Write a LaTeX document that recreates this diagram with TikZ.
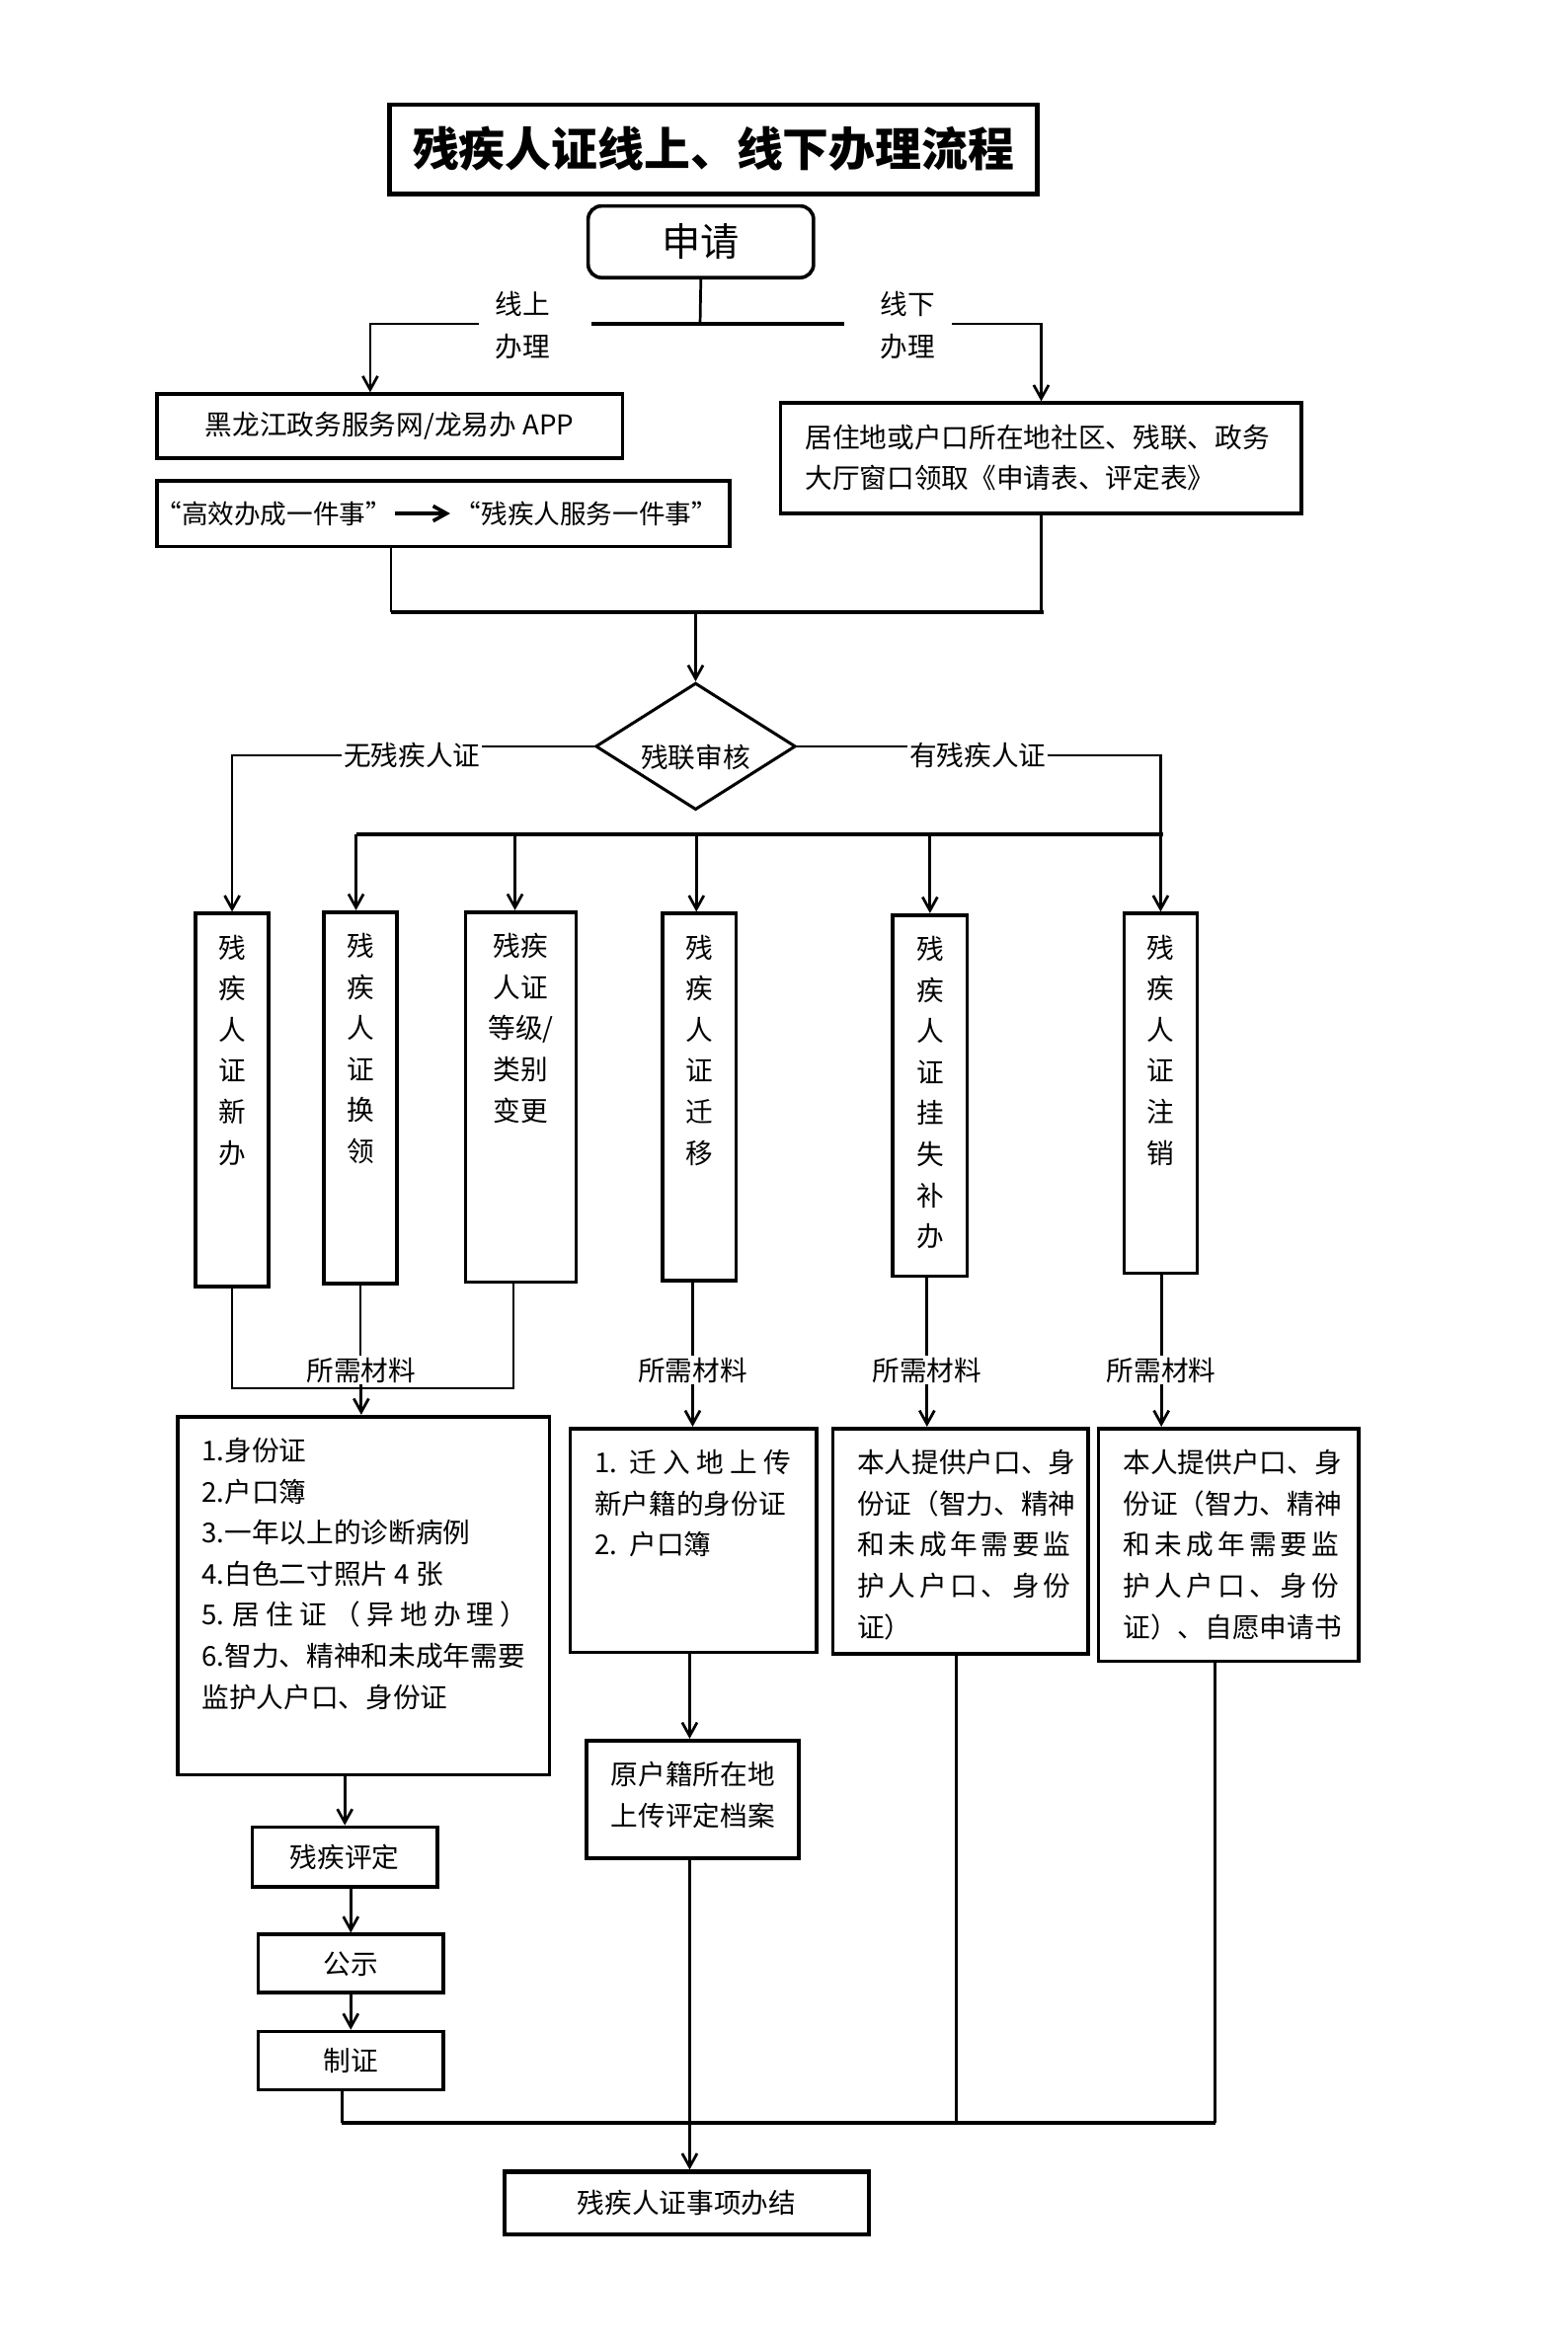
\documentclass[tikz,border=0pt]{standalone}
\usepackage{fontspec}
\setmainfont{Noto Sans CJK SC}
\usepackage{tikz}
\usetikzlibrary{arrows,arrows.meta,positioning,calc,shapes.geometric}
\tikzstyle{box}=[draw,rectangle,line width=2.4pt,inner sep=0pt]
\tikzstyle{col}=[box,minimum width=49pt]
\tikzstyle{tag}=[inner sep=1pt]
\tikzstyle{link}=[line width=1.8pt]
\tikzstyle{arr}=[link,-{Straight Barb[length=9pt,width=10pt]}]
\tikzstyle{bar}=[line width=3pt]
\tikzstyle{vtext}=[anchor=north,align=center,yshift=-12pt]
\tikzstyle{ltext}=[anchor=north west,align=left,xshift=14pt,yshift=-12pt]
\newcommand{\spreadline}[2]{\makebox[#1][s]{#2}}

\begin{document}
\begin{tikzpicture}[x=1pt,y=-1pt,font=\fontsize{18.3}{27.5}\selectfont]
\useasboundingbox (0,0) rectangle (1050,1571);

% top part
\node [box,line width=3pt,minimum width=434pt,minimum height=60pt,font=\fontsize{31}{31}\selectfont\bfseries] (title) at (478,100) {残疾人证线上、线下办理流程};
\node [box,rounded corners=9pt,minimum width=151pt,minimum height=48pt,font=\fontsize{26}{26}\selectfont] (apply) at (469.5,162) {申请};
\node [tag,align=center,font=\fontsize{18.3}{28}\selectfont] (on) at (350,218) {线上\\办理};
\node [tag,align=center,font=\fontsize{18.3}{28}\selectfont] (off) at (608,218) {线下\\办理};
\coordinate (split) at (469,217);

\node [box,minimum width=312pt,minimum height=43pt] (web) at (261,285.5) {黑龙江政务服务网/龙易办 APP};
\node [box,minimum width=384pt,minimum height=44pt] (eff) at (297,344) {};
\node [tag,anchor=west,font=\fontsize{17.6}{20}\selectfont] (effa) at (103,344) {“高效办成一件事”};
\node [tag,anchor=east,font=\fontsize{17.6}{20}\selectfont] (effb) at (482,344) {“残疾人服务一件事”};
\node [box,minimum width=349pt,minimum height=74pt,
  label={[ltext]north west:{居住地或户口所在地社区、残联、政务\\大厅窗口领取《申请表、评定表》}}] (hall) at (697.5,307) {};

\draw[arr,line width=2.4pt,shorten <=1pt,shorten >=2pt] (effa.east) -- (effb.west);
\draw[link] (apply.south) -- (split);
\draw[bar] ([xshift=27pt]on.east |- split) -- ([xshift=-23pt]off.west |- split);
\draw[arr] ([xshift=-10pt]on.west |- split) -| ([xshift=-13pt]web.north);
\draw[arr] ([xshift=10pt]off.east |- split) -| (hall.north);

% review
\coordinate (join) at (466,410);
\node [draw,diamond,line width=2pt,minimum width=134pt,minimum height=85pt,aspect=1.58,inner sep=0pt] (audit) at (466,500) {\raisebox{-14pt}[0pt][0pt]{残联审核}};
\draw[link] ([xshift=-35pt]eff.south) -- ([xshift=-35pt]eff.south |- join);
\draw[link] (hall.south) -- (hall.south |- join);
\draw[bar] ([xshift=-35pt]eff.south |- join) -- ([xshift=1.5pt]hall.south |- join);
\draw[arr] (join) -- (audit.north);

\node [tag] (nocard) at (276,506) {无残疾人证};
\node [tag] (hascard) at (655,506) {有残疾人证};

% six services
\node [col,minimum height=250pt,label={[vtext]north:{残\\疾\\人\\证\\新\\办}}] (new) at (155.5,737) {};
\node [col,minimum height=249pt,label={[vtext]north:{残\\疾\\人\\证\\换\\领}}] (renew) at (241.5,735.5) {};
\node [col,minimum width=74pt,minimum height=248pt,label={[vtext]north:{残疾\\人证\\等级/\\类别\\变更}}] (grade) at (349,735) {};
\node [col,minimum height=246pt,label={[vtext]north:{残\\疾\\人\\证\\迁\\移}}] (transfer) at (468.5,735) {};
\node [col,minimum width=50pt,minimum height=242pt,label={[vtext]north:{残\\疾\\人\\证\\挂\\失\\补\\办}}] (lost) at (623,734) {};
\node [col,minimum height=241pt,label={[vtext]north:{残\\疾\\人\\证\\注\\销}}] (cancel) at (777.5,732.5) {};

\draw[link] (audit.west) -- (audit.west -| nocard.east);
\draw[arr] (nocard.west) -| (new.north);
\draw[link] (audit.east) -- (audit.east -| hascard.west);
\draw[arr] (hascard.east) -| (cancel.north);

\coordinate (fan) at (466,559);
\draw[bar] ([xshift=-3pt]renew.north |- fan) -- ([xshift=1.5pt]cancel.north |- fan);
\draw[arr] ([xshift=-3pt]renew.north |- fan) -- ([xshift=-3pt]renew.north);
\draw[arr] ([xshift=-4pt]grade.north |- fan) -- ([xshift=-4pt]grade.north);
\draw[arr] ([xshift=-2pt]transfer.north |- fan) -- ([xshift=-2pt]transfer.north);
\draw[arr] (lost.north |- fan) -- (lost.north);

% materials
\node [tag] (need1) at (242,918) {所需材料};
\node [tag] (need2) at (464,918) {所需材料};
\node [tag] (need3) at (621,918) {所需材料};
\node [tag] (need4) at (778,918) {所需材料};

\node [box,minimum width=249pt,minimum height=240pt,
  label={[ltext]north west:{1.身份证\\2.户口簿\\3.一年以上的诊断病例\\4.白色二寸照片 4 张\\5. 居 住 证 （ 异 地 办 理 ）\\6.智力、精神和未成年需要\\监护人户口、身份证}}] (matA) at (243.5,1069) {};
\node [box,minimum width=165pt,minimum height=150pt,
  label={[ltext]north west:{1.\ \ 迁 入 地 上 传\\新户籍的身份证\\2.\ \ 户口簿}}] (matB) at (464.5,1032) {};
\node [box,minimum width=171pt,minimum height=151pt,
  label={[ltext]north west:{本人提供户口、身\\份证（智力、精神\\\spreadline{143pt}{和\hfill 未\hfill 成\hfill 年\hfill 需\hfill 要\hfill 监}\\\spreadline{143pt}{护\hfill 人\hfill 户\hfill 口\hfill 、\hfill 身\hfill 份}\\证）}}] (matC) at (643.5,1032.5) {};
\node [box,minimum width=174pt,minimum height=156pt,
  label={[ltext]north west:{本人提供户口、身\\份证（智力、精神\\\spreadline{145pt}{和\hfill 未\hfill 成\hfill 年\hfill 需\hfill 要\hfill 监}\\\spreadline{145pt}{护\hfill 人\hfill 户\hfill 口\hfill 、\hfill 身\hfill 份}\\证）、自愿申请书}}] (matD) at (823,1035) {};

\coordinate (gather) at (242,930);
\draw[link] (new.south) -- (new.south |- gather) -- ([xshift=-5pt]grade.south |- gather) -- ([xshift=-5pt]grade.south);
\draw[link] (renew.south) -- (renew.south |- need1.north);
\draw[arr] (need1.south) -- (need1.south |- matA.north);
\draw[link] (need2.north |- transfer.south) -- (need2.north);
\draw[arr] (need2.south) -- (need2.south |- matB.north);
\draw[link] (need3.north |- lost.south) -- (need3.north);
\draw[arr] (need3.south) -- (need3.south |- matC.north);
\draw[link] (need4.north |- cancel.south) -- (need4.north);
\draw[arr] (need4.south) -- (need4.south |- matD.north);

% finishing steps
\node [box,minimum width=124pt,minimum height=40pt] (assess) at (231,1244) {残疾评定};
\node [box,minimum width=124pt,minimum height=39pt] (pub) at (235,1315.5) {公示};
\node [box,minimum width=124pt,minimum height=39pt] (make) at (235,1380.5) {制证};
\node [box,minimum width=142pt,minimum height=79pt,
  label={[ltext]north west:{原户籍所在地\\上传评定档案}}] (orig) at (464,1205.5) {};
\node [box,line width=3pt,minimum width=244pt,minimum height=42pt] (done) at (460,1476) {残疾人证事项办结};

\draw[arr] (assess.north |- matA.south) -- (assess.north);
\draw[arr] (pub.north |- assess.south) -- (pub.north);
\draw[arr] (pub.south) -- (make.north);
\draw[arr] ([xshift=-2pt]orig.north |- matB.south) -- ([xshift=-2pt]orig.north);

\coordinate (endbar) at (460,1422);
\draw[link] ([xshift=-6pt]make.south) -- ([xshift=-6pt]make.south |- endbar);
\draw[link] ([xshift=-3pt]matC.south) -- ([xshift=-3pt]matC.south |- endbar);
\draw[link] ([xshift=-9pt]matD.south) -- ([xshift=-9pt]matD.south |- endbar);
\draw[bar] ([xshift=-6pt]make.south |- endbar) -- ([xshift=-9pt]matD.south |- endbar);
\draw[arr] ([xshift=-2pt]orig.south) -- ([xshift=-2pt]orig.south |- done.north);
\end{tikzpicture}
\end{document}
